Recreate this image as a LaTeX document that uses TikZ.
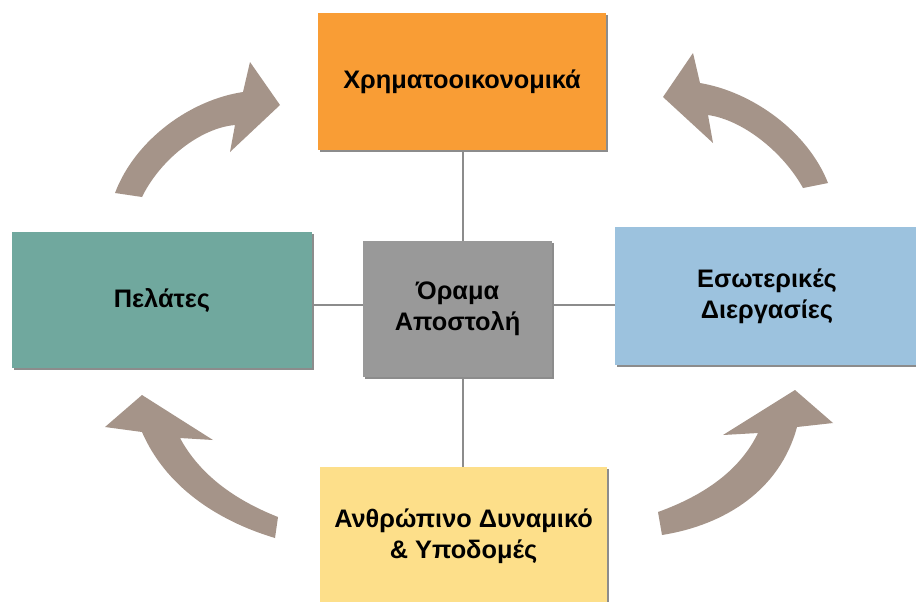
\documentclass[tikz,border=0pt]{standalone}
\usepackage{fontspec}
\setmainfont{Liberation Sans}
\usetikzlibrary{shadows}

\definecolor{finorange}{HTML}{F99D35}
\definecolor{custteal}{HTML}{70A89E}
\definecolor{procblue}{HTML}{9CC2DE}
\definecolor{peopleyellow}{HTML}{FDDF8A}
\definecolor{visiongray}{HTML}{999999}
\definecolor{arrowtaupe}{HTML}{A59489}
\definecolor{linkgray}{HTML}{8C8C8C}

\tikzset{
  card/.style={draw=none, align=center, inner sep=0pt,
    font=\fontsize{19}{23}\selectfont\bfseries,
    drop shadow={shadow xshift=1.5pt, shadow yshift=-1.5pt, opacity=0.45, fill=black}},
  link/.style={draw=linkgray, line width=1.2pt},
  flow/.style={fill=arrowtaupe, draw=none}
}

\begin{document}
\begin{tikzpicture}[x=0.75pt, y=-0.75pt]
  \clip (0,0) rectangle (916,601);
  \fill[white] (0,0) rectangle (916,601);

  % crossing point of the four links
  \coordinate (hub) at (463,305);

  % perspective cards
  \node[card, fill=finorange, minimum width=216pt, minimum height=102.75pt]
    (fin) at (462,81.5) {Χρηματοοικονομικά};
  \node[card, fill=visiongray, minimum width=141.75pt, minimum height=102pt]
    (vision) at (457.5,309) {Όραμα\\Αποστολή};
  \node[card, fill=custteal, minimum width=225pt, minimum height=102pt]
    (cust) at (162,300) {Πελάτες};
  \node[card, fill=procblue, minimum width=228pt, minimum height=103.5pt]
    (proc) at (767,296) {Εσωτερικές\\Διεργασίες};
  \node[card, fill=peopleyellow, minimum width=215.25pt, minimum height=103.5pt]
    (people) at (463.5,536) {Ανθρώπινο Δυναμικό\\\& Υποδομές};

  % links from the centre card to each perspective
  \draw[link] (fin.south -| hub) -- (vision.north -| hub);
  \draw[link] (vision.south -| hub) -- (people.north -| hub);
  \draw[link] (cust.east |- hub) -- (vision.west |- hub);
  \draw[link] (vision.east |- hub) -- (proc.west |- hub);

  % curved block arrows running round the cycle
  \fill[flow] (115,193) .. controls (135,140) and (190,100) .. (243,92)
    -- (250,62) -- (280,105) -- (230,152) -- (235,125)
    .. controls (200,128) and (160,160) .. (142,197) -- cycle;
  \fill[flow] (828,183) .. controls (808,132) and (753,92) .. (700,83)
    -- (693,53) -- (663,97) -- (713,143) -- (708,115)
    .. controls (743,120) and (783,152) .. (803,188) -- cycle;
  \fill[flow] (142,432) .. controls (165,485) and (215,520) .. (275,538)
    -- (278,517) .. controls (235,500) and (200,475) .. (180,438)
    -- (213,440) -- (142,395) -- (105,427) -- cycle;
  \fill[flow] (797,427) .. controls (780,490) and (725,525) .. (662,535)
    -- (658,512) .. controls (705,495) and (740,470) .. (758,433)
    -- (723,435) -- (795,390) -- (833,423) -- cycle;
\end{tikzpicture}
\end{document}
